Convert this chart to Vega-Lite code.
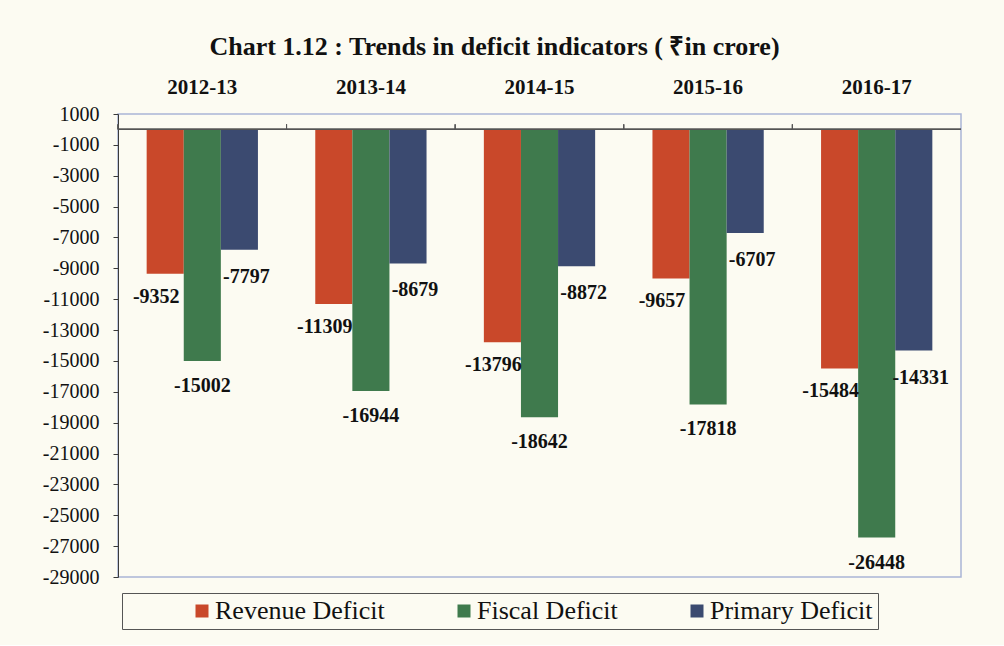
{
  "$schema": "https://vega.github.io/schema/vega-lite/v6.json",
  "width": 843,
  "height": 463,
  "autosize": {"type": "none"},
  "padding": {"left": 118, "top": 114, "right": 43, "bottom": 68},
  "background": "#fcfbf2",
  "title": {
    "text": "Chart 1.12 : Trends in deficit indicators ( ₹in crore)",
    "font": "Liberation Serif",
    "fontSize": 26,
    "fontWeight": "bold",
    "color": "#111111",
    "anchor": "middle",
    "frame": "group",
    "dx": -45,
    "offset": 16
  },
  "config": {
    "view": {"stroke": "#a9b5d6", "strokeWidth": 1.5},
    "font": "Liberation Serif"
  },
  "data": {
    "values": [
      {"year": "2012-13", "series": "Revenue Deficit", "value": -9352},
      {"year": "2012-13", "series": "Fiscal Deficit", "value": -15002},
      {"year": "2012-13", "series": "Primary Deficit", "value": -7797},
      {"year": "2013-14", "series": "Revenue Deficit", "value": -11309},
      {"year": "2013-14", "series": "Fiscal Deficit", "value": -16944},
      {"year": "2013-14", "series": "Primary Deficit", "value": -8679},
      {"year": "2014-15", "series": "Revenue Deficit", "value": -13796},
      {"year": "2014-15", "series": "Fiscal Deficit", "value": -18642},
      {"year": "2014-15", "series": "Primary Deficit", "value": -8872},
      {"year": "2015-16", "series": "Revenue Deficit", "value": -9657},
      {"year": "2015-16", "series": "Fiscal Deficit", "value": -17818},
      {"year": "2015-16", "series": "Primary Deficit", "value": -6707},
      {"year": "2016-17", "series": "Revenue Deficit", "value": -15484},
      {"year": "2016-17", "series": "Fiscal Deficit", "value": -26448},
      {"year": "2016-17", "series": "Primary Deficit", "value": -14331}
    ]
  },
  "layer": [
    {
      "mark": {"type": "bar"},
      "encoding": {
        "x": {
          "field": "year",
          "type": "nominal",
          "sort": null,
          "scale": {"paddingInner": 0.34, "paddingOuter": 0.17},
          "axis": {
            "orient": "top",
            "title": null,
            "domain": false,
            "ticks": false,
            "tickSize": 0,
            "labelAngle": 0,
            "labelFont": "Liberation Serif",
            "labelFontSize": 21,
            "labelFontWeight": "bold",
            "labelColor": "#111111",
            "labelPadding": 17
          }
        },
        "xOffset": {
          "field": "series",
          "type": "nominal",
          "sort": ["Revenue Deficit", "Fiscal Deficit", "Primary Deficit"],
          "scale": {"paddingInner": 0, "paddingOuter": 0}
        },
        "y": {
          "field": "value",
          "type": "quantitative",
          "scale": {"domain": [-29000, 1000], "nice": false, "zero": false},
          "axis": {
            "title": null,
            "grid": false,
            "labelOverlap": false,
            "tickCount": 40,
            "labelExpr": "replace(datum.label, '−', '-')",
            "format": "d",
            "values": [1000, -1000, -3000, -5000, -7000, -9000, -11000, -13000, -15000, -17000, -19000, -21000, -23000, -25000, -27000, -29000],
            "tickSize": 5,
            "labelPadding": 14,
            "domainColor": "#3a3a3a",
            "tickColor": "#3a3a3a",
            "labelFont": "Liberation Serif",
            "labelFontSize": 20,
            "labelColor": "#111111"
          }
        },
        "color": {
          "field": "series",
          "type": "nominal",
          "scale": {
            "domain": ["Revenue Deficit", "Fiscal Deficit", "Primary Deficit"],
            "range": ["#c9482a", "#3f7a4d", "#3b4a70"]
          },
          "legend": {
            "title": null,
            "orient": "none",
            "direction": "horizontal",
            "legendX": 4,
            "legendY": 479,
            "symbolType": "square",
            "symbolSize": 169,
            "symbolStrokeWidth": 0,
            "symbolOffset": 62,
            "labelFont": "Liberation Serif",
            "labelFontSize": 26,
            "labelColor": "#111111",
            "labelLimit": 400,
            "labelOffset": 0,
            "columnPadding": 4,
            "padding": 5,
            "strokeColor": "#555555",
            "fillColor": "#fcfbf2"
          }
        }
      }
    },
    {
      "mark": {"type": "rule", "color": "#555555", "strokeWidth": 1},
      "encoding": {"y": {"datum": 0}}
    },
    {
      "mark": {"type": "rule", "color": "#555555", "strokeWidth": 1},
      "encoding": {
        "x": {"field": "year", "type": "nominal", "sort": null, "bandPosition": -0.258},
        "y": {"datum": 0},
        "y2": {"datum": 330}
      }
    },
    {
      "transform": [{"filter": "datum.series === 'Revenue Deficit'"}],
      "mark": {"type": "text", "dx": -9, "dy": 23, "baseline": "middle", "font": "Liberation Serif", "fontSize": 20, "fontWeight": "bold", "color": "#111111"},
      "encoding": {
        "x": {"field": "year", "type": "nominal", "sort": null},
        "xOffset": {"field": "series", "type": "nominal", "sort": ["Revenue Deficit", "Fiscal Deficit", "Primary Deficit"]},
        "y": {"field": "value", "type": "quantitative"},
        "text": {"field": "value", "type": "nominal"}
      }
    },
    {
      "transform": [{"filter": "datum.series === 'Fiscal Deficit'"}],
      "mark": {"type": "text", "dx": 0, "dy": 25, "baseline": "middle", "font": "Liberation Serif", "fontSize": 20, "fontWeight": "bold", "color": "#111111"},
      "encoding": {
        "x": {"field": "year", "type": "nominal", "sort": null},
        "xOffset": {"field": "series", "type": "nominal", "sort": ["Revenue Deficit", "Fiscal Deficit", "Primary Deficit"]},
        "y": {"field": "value", "type": "quantitative"},
        "text": {"field": "value", "type": "nominal"}
      }
    },
    {
      "transform": [{"filter": "datum.series === 'Primary Deficit'"}],
      "mark": {"type": "text", "dx": 7, "dy": 27, "baseline": "middle", "font": "Liberation Serif", "fontSize": 20, "fontWeight": "bold", "color": "#111111"},
      "encoding": {
        "x": {"field": "year", "type": "nominal", "sort": null},
        "xOffset": {"field": "series", "type": "nominal", "sort": ["Revenue Deficit", "Fiscal Deficit", "Primary Deficit"]},
        "y": {"field": "value", "type": "quantitative"},
        "text": {"field": "value", "type": "nominal"}
      }
    }
  ]
}
